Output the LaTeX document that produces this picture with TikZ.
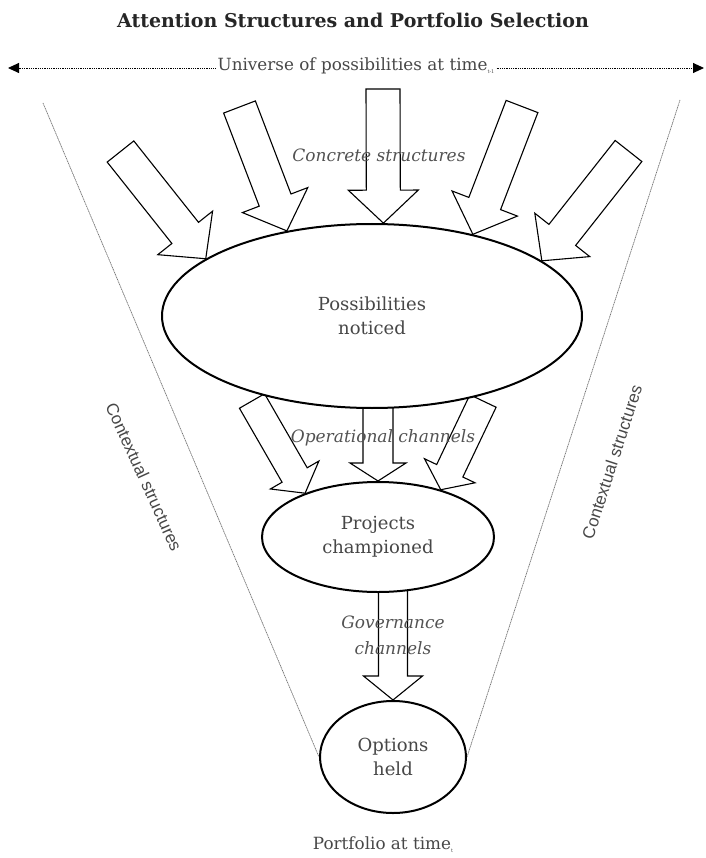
\documentclass[tikz,border=0pt]{standalone}
\usepackage{fontspec}
\setmainfont{DejaVu Serif}
\setsansfont{Liberation Sans}
\usetikzlibrary{shapes.geometric,calc,arrows.meta,backgrounds}

% Hollow block arrow from tail #1 to tip #2:
% shaft half-width #3, head half-width #4, head length #5
\newcommand\blockarrowto[5]{%
  \path ($(#2)!#5!(#1)$) coordinate (ba-base);
  \draw[blockarrow]
    ($(#1)!#3!90:(#2)$) -- ($(ba-base)!#3!-90:(#1)$) -- ($(ba-base)!#4!-90:(#1)$)
    -- (#2) -- ($(ba-base)!#4!90:(#1)$) -- ($(ba-base)!#3!90:(#1)$)
    -- ($(#1)!#3!-90:(#2)$) -- cycle;
}

\begin{document}
\begin{tikzpicture}[x=1pt,y=-1pt,
  heading/.style={text=black!85, font=\bfseries\fontsize{19}{22}\selectfont, inner sep=0pt},
  plainlabel/.style={text=black!72, font=\fontsize{16.8}{20}\selectfont, inner sep=2pt},
  stage/.style={ellipse, draw=black, line width=2pt, fill=white, inner sep=0pt,
    text=black!72, font=\fontsize{18}{24}\selectfont, align=center},
  channel/.style={text=black!68, font=\itshape\fontsize{17}{26}\selectfont, align=center, inner sep=0pt},
  contextlabel/.style={text=black!72, font=\sffamily\fontsize{17}{20}\selectfont, inner sep=0pt},
  blockarrow/.style={draw=black, line width=1.1pt, fill=white, line join=miter},
  context/.style={draw=black!55, line width=0.7pt, dash pattern=on 1.2pt off 0.6pt},
  universe/.style={draw=black, line width=0.9pt, dash pattern=on 0.9pt off 0.9pt,
    -{Triangle[length=11pt,width=10pt]}},
]
\useasboundingbox (0,0) rectangle (705,858);

% title and the universe of possibilities
\node[heading] (title) at (353,20) {Attention Structures and Portfolio Selection};
\node[plainlabel] (univ) at (356,66)
  {Universe of possibilities at time\raisebox{-3pt}{\fontsize{5}{5}\selectfont t-1}};
\coordinate (uL) at (8,68);
\coordinate (uR) at (704,68);
\draw[universe] (univ.west |- uL) -- (uL);
\draw[universe] (univ.east |- uR) -- (uR);

% stages of the attention funnel
\node[stage, minimum width=420pt, minimum height=184pt] (pn) at (372,316) {Possibilities\\noticed};
\node[stage, minimum width=232pt, minimum height=110pt] (pc) at (378,537) {Projects\\championed};
\node[stage, minimum width=146pt, minimum height=112pt] (oh) at (393,757) {Options\\held};

% labels
\node[channel] (cs) at (379,155) {Concrete structures};
\node[channel] (oc) at (383,438) {Operational channels};
\node[channel] (gc) at (393,635) {Governance\\channels};
\node[plainlabel] (pt) at (383,845)
  {Portfolio at time\raisebox{-3pt}{\fontsize{5}{5}\selectfont t}};
\node[contextlabel, rotate=-65.5] (cl) at (144,477) {Contextual structures};
\node[contextlabel, rotate=72] (cr) at (612,462) {Contextual structures};

\begin{pgfonlayer}{background}
  % contextual boundary of the funnel
  \coordinate (ctxL) at (43,103);
  \coordinate (ctxR) at (680,100);
  \draw[context] (ctxL) -- (oh.west);
  \draw[context] (ctxR) -- (oh.east);

  % concrete structures
  \coordinate (c1) at (120.5,151.5);
  \coordinate (c2) at (239.5,107);
  \coordinate (c3) at (383,89);
  \coordinate (c4) at (522,106.5);
  \coordinate (c5) at (628.5,151);
  \blockarrowto{c1}{pn.161}{17pt}{35pt}{33pt}
  \blockarrowto{c2}{pn.135}{17pt}{35pt}{33pt}
  \blockarrowto{c3}{pn.83}{17pt}{35pt}{33pt}
  \blockarrowto{c4}{pn.39}{17pt}{35pt}{33pt}
  \blockarrowto{c5}{pn.18}{17pt}{35pt}{33pt}

  % operational channels
  \coordinate (o1) at (252,401);
  \coordinate (o2) at (378,395);
  \coordinate (o3) at (483,401);
  \blockarrowto{o1}{pc.149}{14.5pt}{28pt}{21pt}
  \blockarrowto{o2}{pc.north}{15pt}{28pt}{18pt}
  \blockarrowto{o3}{pc.37}{14.5pt}{28pt}{21pt}

  % governance channel
  \coordinate (g1) at (393,575);
  \blockarrowto{g1}{oh.north}{14.5pt}{29.5pt}{24pt}
\end{pgfonlayer}
\end{tikzpicture}
\end{document}
